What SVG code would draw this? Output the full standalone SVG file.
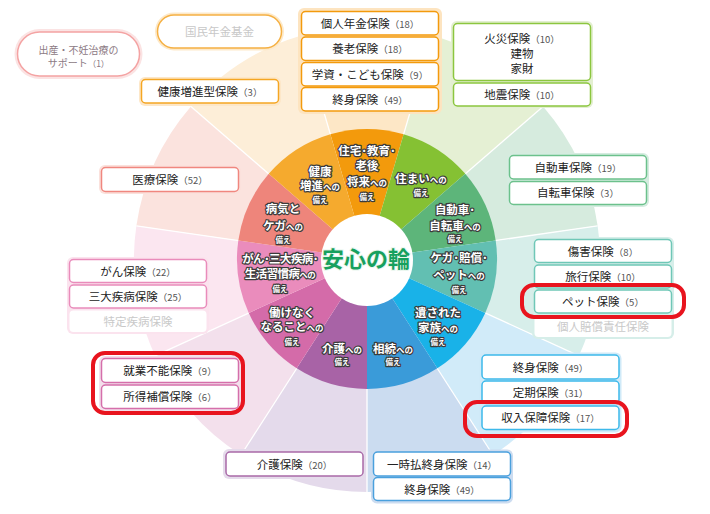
<svg xmlns="http://www.w3.org/2000/svg" width="710" height="514" viewBox="0 0 710 514">
<style>
text{font-family:"Noto Sans CJK JP","Noto Sans",sans-serif}
.w{fill:#fff;stroke:#3b3b3b;stroke-width:2.4;stroke-linejoin:round;paint-order:stroke;font-weight:bold;font-size:11.5px;text-anchor:middle}
.s{font-size:8.5px}
.ss{font-size:7.5px}
.sep{stroke:#fff;stroke-width:1.3}
.c{rx:6}
.b{fill:#fff;stroke-width:1.5}
.t{font-size:11.5px;fill:#222;text-anchor:middle}
.n{font-size:9.5px;fill:#555}
.f{font-size:11.5px;fill:#c9c9c9;text-anchor:middle}
.red{fill:none;stroke:#e8141e;stroke-width:4}
</style>
<rect width="710" height="514" fill="#fff"/>
<g id="wheel">
<g id="pale">
<path d="M367 259L301.36 35.44A233 233 0 0 1 432.64 35.44Z" fill="#fde7c6"/>
<path d="M367 259L432.64 35.44A233 233 0 0 1 543.09 106.42Z" fill="#e5f0d4"/>
<path d="M367 259L543.09 106.42A233 233 0 0 1 597.63 225.84Z" fill="#d6ebde"/>
<path d="M367 259L597.63 225.84A233 233 0 0 1 578.94 355.79Z" fill="#d7eeea"/>
<path d="M367 259L578.94 355.79A233 233 0 0 1 492.97 455.01Z" fill="#d1ebf9"/>
<path d="M367 259L492.97 455.01A233 233 0 0 1 367 492Z" fill="#cbdcf0"/>
<path d="M367 259L367 492A233 233 0 0 1 241.03 455.01Z" fill="#e4daeb"/>
<path d="M367 259L241.03 455.01A233 233 0 0 1 155.06 355.79Z" fill="#f3e0ec"/>
<path d="M367 259L155.06 355.79A233 233 0 0 1 136.37 225.84Z" fill="#fbe6f0"/>
<path d="M367 259L136.37 225.84A233 233 0 0 1 190.91 106.42Z" fill="#fbe3de"/>
<path d="M367 259L190.91 106.42A233 233 0 0 1 301.36 35.44Z" fill="#fdeed8"/>
</g>
<g id="seps">
<line class="sep" x1="367" y1="259" x2="301.36" y2="35.44"/>
<line class="sep" x1="367" y1="259" x2="432.64" y2="35.44"/>
<line class="sep" x1="367" y1="259" x2="543.09" y2="106.42"/>
<line class="sep" x1="367" y1="259" x2="597.63" y2="225.84"/>
<line class="sep" x1="367" y1="259" x2="578.94" y2="355.79"/>
<line class="sep" x1="367" y1="259" x2="492.97" y2="455.01"/>
<line class="sep" x1="367" y1="259" x2="367" y2="492"/>
<line class="sep" x1="367" y1="259" x2="241.03" y2="455.01"/>
<line class="sep" x1="367" y1="259" x2="155.06" y2="355.79"/>
<line class="sep" x1="367" y1="259" x2="136.37" y2="225.84"/>
<line class="sep" x1="367" y1="259" x2="190.91" y2="106.42"/>
</g>
<g id="ring">
<path d="M367 259L330.38 134.27A130 130 0 0 1 403.62 134.27Z" fill="#f39a0c"/>
<path d="M367 259L403.62 134.27A130 130 0 0 1 465.25 173.87Z" fill="#85c133"/>
<path d="M367 259L465.25 173.87A130 130 0 0 1 495.68 240.5Z" fill="#5db57a"/>
<path d="M367 259L495.68 240.5A130 130 0 0 1 485.25 313Z" fill="#62bfb2"/>
<path d="M367 259L485.25 313A130 130 0 0 1 437.28 368.36Z" fill="#19b2e8"/>
<path d="M367 259L437.28 368.36A130 130 0 0 1 367 389Z" fill="#3a9bd9"/>
<path d="M367 259L367 389A130 130 0 0 1 296.72 368.36Z" fill="#a863a6"/>
<path d="M367 259L296.72 368.36A130 130 0 0 1 248.75 313Z" fill="#d46ba9"/>
<path d="M367 259L248.75 313A130 130 0 0 1 238.32 240.5Z" fill="#ea8cbc"/>
<path d="M367 259L238.32 240.5A130 130 0 0 1 268.75 173.87Z" fill="#ee857b"/>
<path d="M367 259L268.75 173.87A130 130 0 0 1 330.38 134.27Z" fill="#f5aa2e"/>
</g>
<circle cx="367" cy="260" r="46" fill="#fff"/>
<text x="366" y="267" font-size="22" font-weight="bold" fill="#17a05e" stroke="#e9f6ee" stroke-width="2" paint-order="stroke" text-anchor="middle">安心の輪</text>
</g>
<g id="sector-labels">
<g id="s-house"><text class="w" x="367" y="154.5">住宅･教育･</text><text class="w" x="367" y="169.5">老後</text><text class="w" x="367" y="186">将来<tspan class="s">への</tspan></text><text class="w ss" x="367" y="200">備え</text></g>
<g id="s-health"><text class="w" x="320" y="175.5">健康</text><text class="w" x="320" y="190">増進<tspan class="s">への</tspan></text><text class="w ss" x="320" y="203">備え</text></g>
<g id="s-home"><text class="w" x="421" y="182.5">住まい<tspan class="s">への</tspan></text><text class="w ss" x="421" y="195.5">備え</text></g>
<g id="s-car"><text class="w" x="455" y="213.5">自動車･</text><text class="w" x="455" y="229.5">自転車<tspan class="s">への</tspan></text><text class="w ss" x="455" y="242">備え</text></g>
<g id="s-injury"><text class="w" x="459" y="262">ケガ･賠償･</text><text class="w" x="459" y="278.5">ペット<tspan class="s">への</tspan></text><text class="w ss" x="459" y="293">備え</text></g>
<g id="s-family"><text class="w" x="438" y="316.5">遺された</text><text class="w" x="438" y="331.5">家族<tspan class="s">への</tspan></text><text class="w ss" x="438" y="344.5">備え</text></g>
<g id="s-inherit"><text class="w" x="393" y="352.5">相続<tspan class="s">への</tspan></text><text class="w ss" x="393" y="365">備え</text></g>
<g id="s-care"><text class="w" x="342" y="352.5">介護<tspan class="s">への</tspan></text><text class="w ss" x="342" y="365">備え</text></g>
<g id="s-work"><text class="w" x="292" y="316.5">働けなく</text><text class="w" x="292" y="331">なること<tspan class="s">への</tspan></text><text class="w ss" x="292" y="344.5">備え</text></g>
<g id="s-cancer"><text class="w" x="280" y="263" letter-spacing="-0.6">がん･三大疾病･</text><text class="w" x="280" y="278" letter-spacing="-0.6">生活習慣病<tspan class="s">への</tspan></text><text class="w ss" x="280" y="292">備え</text></g>
<g id="s-sick"><text class="w" x="283" y="213">病気と</text><text class="w" x="283" y="229.5">ケガ<tspan class="s">への</tspan></text><text class="w ss" x="283" y="243">備え</text></g>
</g>
<g id="connectors"></g>
<g id="n-birth">
<rect x="14.5" y="29" width="128" height="50" rx="25" fill="#fbe3e3"/>
<rect x="17.5" y="32" width="122" height="44" rx="22" fill="#fff" stroke="#f4a3a3" stroke-width="1.5"/>
<text font-size="10" fill="#8c7a84" text-anchor="middle"><tspan x="78.5" y="53.5">出産・不妊治療の</tspan><tspan x="78.5" y="67">サポート<tspan font-size="8.5">（1）</tspan></tspan></text>
</g>
<g id="n-kokumin">
<rect x="155" y="12.5" width="129" height="38" rx="19" fill="#fde9c9"/>
<rect x="157.5" y="15" width="124" height="33" rx="16.5" fill="#fff" stroke="#f5b043" stroke-width="1.5"/>
<text x="219.5" y="35.5" font-size="11.5" fill="#c8c8c8" text-anchor="middle">国民年金基金</text>
</g>
<g id="n-kenko">
<rect class="c" x="139" y="77" width="142" height="29" fill="#fde7c8"/>
<rect class="b" x="141.5" y="79.5" width="137" height="23.5" rx="4" stroke="#f5a623"/>
<text class="t" x="210" y="95.5">健康増進型保険<tspan class="n">（3）</tspan></text>
</g>
<g id="n-top">
<rect class="c" x="298" y="8" width="144" height="106" fill="#fde4c0"/>
<rect class="b" x="301.5" y="11.5" width="137" height="23.5" rx="4" stroke="#f39a0c"/>
<rect class="b" x="301.5" y="37" width="137" height="23.5" rx="4" stroke="#f39a0c"/>
<rect class="b" x="301.5" y="62.5" width="137" height="23.5" rx="4" stroke="#f39a0c"/>
<rect class="b" x="301.5" y="87.5" width="137" height="23.5" rx="4" stroke="#f39a0c"/>
<text class="t" x="370" y="27.5">個人年金保険<tspan class="n">（18）</tspan></text>
<text class="t" x="370" y="53">養老保険<tspan class="n">（18）</tspan></text>
<text class="t" x="370" y="78.5">学資・こども保険<tspan class="n">（9）</tspan></text>
<text class="t" x="370" y="103.5">終身保険<tspan class="n">（49）</tspan></text>
</g>
<g id="n-fire">
<rect class="c" x="451" y="21" width="142" height="87" fill="#e3efd1"/>
<rect class="b" x="453.5" y="23.5" width="137" height="57" rx="4" stroke="#8cc63f"/>
<rect class="b" x="453.5" y="83" width="137" height="23" rx="4" stroke="#8cc63f"/>
<text class="t" x="522" y="43">火災保険<tspan class="n">（10）</tspan></text>
<text class="t" x="522" y="58">建物</text>
<text class="t" x="522" y="73">家財</text>
<text class="t" x="522" y="99">地震保険<tspan class="n">（10）</tspan></text>
</g>
<g id="n-car">
<rect class="c" x="507" y="153" width="142" height="54" fill="#d5ece0"/>
<rect class="b" x="509.5" y="155.5" width="137" height="23.5" rx="4" stroke="#6cc18c"/>
<rect class="b" x="509.5" y="181.5" width="137" height="23" rx="4" stroke="#6cc18c"/>
<text class="t" x="578" y="171.5">自動車保険<tspan class="n">（19）</tspan></text>
<text class="t" x="578" y="197">自転車保険<tspan class="n">（3）</tspan></text>
</g>
<g id="n-injury">
<rect class="c" x="532" y="237" width="142" height="102" fill="#d6eee9"/>
<rect class="b" x="534.5" y="239.5" width="137" height="23" rx="4" stroke="#6fc7b7"/>
<rect class="b" x="534.5" y="265" width="137" height="23" rx="4" stroke="#6fc7b7"/>
<rect class="b" x="534.5" y="290" width="137" height="23" rx="4" stroke="#6fc7b7"/>
<rect x="534.5" y="315" width="137" height="22" rx="4" fill="#fff"/>
<text class="t" x="603" y="255.5">傷害保険<tspan class="n">（8）</tspan></text>
<text class="t" x="603" y="281">旅行保険<tspan class="n">（10）</tspan></text>
<text class="t" x="603" y="306">ペット保険<tspan class="n">（5）</tspan></text>
<text class="f" x="603" y="330.5">個人賠償責任保険</text>
</g>
<g id="n-medical">
<rect class="c" x="99" y="165" width="142" height="29" fill="#fbe1dc"/>
<rect class="b" x="101.5" y="167.5" width="137" height="24" rx="4" stroke="#f0877f"/>
<text class="t" x="170" y="184">医療保険<tspan class="n">（52）</tspan></text>
</g>
<g id="n-cancer">
<rect class="c" x="67" y="257" width="142" height="77" fill="#fbe3ee"/>
<rect class="b" x="69.5" y="259.5" width="137" height="23" rx="4" stroke="#e98cbb"/>
<rect class="b" x="69.5" y="285" width="137" height="23" rx="4" stroke="#e98cbb"/>
<rect x="69.5" y="310.5" width="137" height="21.5" rx="4" fill="#fff"/>
<text class="t" x="138" y="275.5">がん保険<tspan class="n">（22）</tspan></text>
<text class="t" x="138" y="301">三大疾病保険<tspan class="n">（25）</tspan></text>
<text class="f" x="138" y="325.5">特定疾病保険</text>
</g>
<g id="n-work">
<rect class="c" x="99" y="356" width="142" height="55" fill="#f3dfeb"/>
<rect class="b" x="101.5" y="358.5" width="137" height="24" rx="4" stroke="#d56fab"/>
<rect class="b" x="101.5" y="385" width="137" height="23.5" rx="4" stroke="#d56fab"/>
<text class="t" x="170" y="375">就業不能保険<tspan class="n">（9）</tspan></text>
<text class="t" x="170" y="401">所得補償保険<tspan class="n">（6）</tspan></text>
</g>
<g id="n-life">
<rect class="c" x="479.5" y="352.5" width="142" height="80" fill="#d0eaf8"/>
<rect class="b" x="482" y="355" width="137" height="24" rx="4" stroke="#3db9ea"/>
<rect class="b" x="482" y="381" width="137" height="22.5" rx="4" stroke="#3db9ea"/>
<rect class="b" x="482" y="406" width="137" height="23.5" rx="4" stroke="#3db9ea"/>
<text class="t" x="550.5" y="371.5">終身保険<tspan class="n">（49）</tspan></text>
<text class="t" x="550.5" y="396.5">定期保険<tspan class="n">（31）</tspan></text>
<text class="t" x="550.5" y="422">収入保障保険<tspan class="n">（17）</tspan></text>
</g>
<g id="n-care">
<rect class="c" x="223" y="449" width="143" height="30" fill="#e5dbeb"/>
<rect class="b" x="226" y="452" width="137" height="24" rx="4" stroke="#a96aa8"/>
<text class="t" x="294.5" y="468.5">介護保険<tspan class="n">（20）</tspan></text>
</g>
<g id="n-inherit">
<rect class="c" x="371" y="449.5" width="142" height="54" fill="#ccdcf0"/>
<rect class="b" x="373.5" y="452" width="137" height="24" rx="4" stroke="#4aa0dd"/>
<rect class="b" x="373.5" y="477.5" width="137" height="23" rx="4" stroke="#4aa0dd"/>
<text class="t" x="442" y="468.5">一時払終身保険<tspan class="n">（14）</tspan></text>
<text class="t" x="442" y="493.5">終身保険<tspan class="n">（49）</tspan></text>
</g>
<g id="highlights">
<rect class="red" x="522" y="285" width="162" height="32" rx="12"/>
<rect class="red" x="93" y="353" width="150" height="60" rx="12"/>
<rect class="red" x="465" y="402" width="162" height="34" rx="12"/>
</g>
</svg>
